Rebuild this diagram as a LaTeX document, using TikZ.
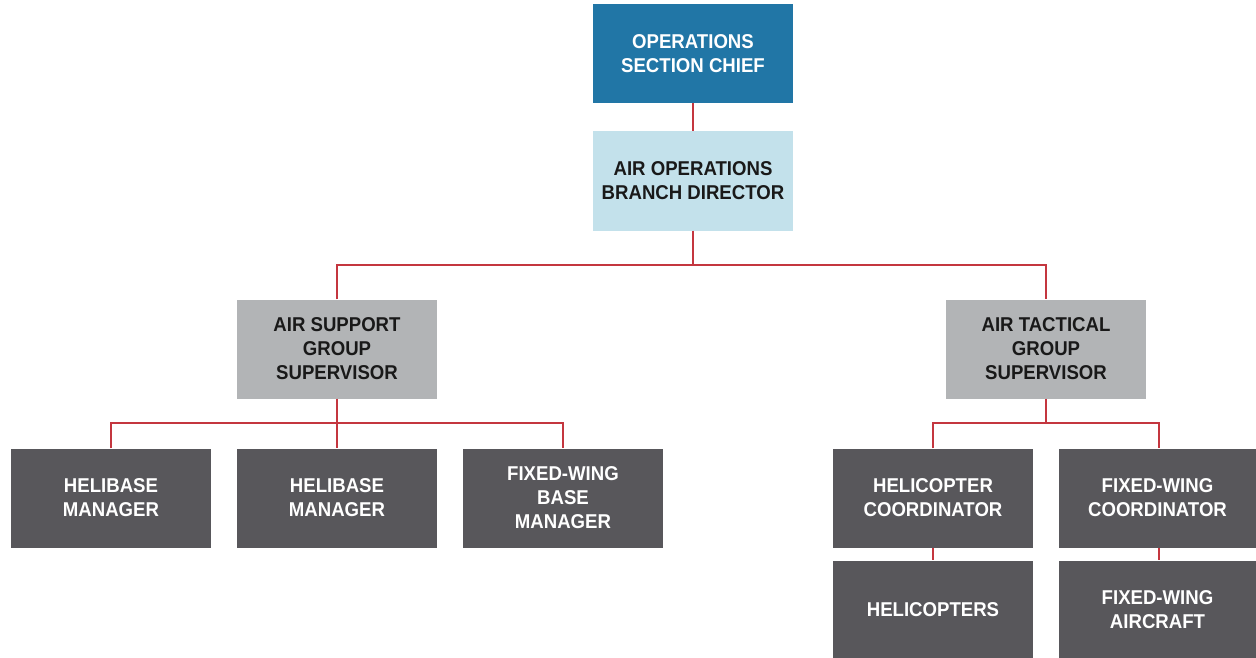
\documentclass[tikz,border=0pt]{standalone}
\usepackage{fontspec}
\setmainfont{Liberation Sans}[FakeStretch=0.93]
\definecolor{chiefblue}{HTML}{2176A6}
\definecolor{lightblue}{HTML}{C3E1EB}
\definecolor{midgray}{HTML}{B2B4B6}
\definecolor{darkgray}{HTML}{58575B}
\definecolor{linered}{HTML}{C4363F}
\tikzset{
  box/.style={rectangle, minimum width=200pt, minimum height=99pt, inner sep=0pt, align=center,
    font=\fontsize{20}{24}\selectfont\bfseries},
  chief/.style={box, fill=chiefblue, text=white},
  branch/.style={box, fill=lightblue, text=black!90},
  group/.style={box, fill=midgray, text=black!90},
  unit/.style={box, fill=darkgray, text=white},
  link/.style={draw=linered, line width=2.2pt}
}
\begin{document}
\begin{tikzpicture}[x=1pt,y=-1pt]
\clip (0,0) rectangle (1256,658);
\fill[white] (0,0) rectangle (1256,658);
\node[chief]  (osc) at (693,53.5) {OPERATIONS\\SECTION CHIEF};
\node[branch] (aob) at (693,181) {AIR OPERATIONS\\BRANCH DIRECTOR};
\node[group]  (asg) at (337,349) {AIR SUPPORT\\GROUP\\SUPERVISOR};
\node[group]  (atg) at (1046,349) {AIR TACTICAL\\GROUP\\SUPERVISOR};
\node[unit]   (hb1) at (111,498) {HELIBASE\\MANAGER};
\node[unit]   (hb2) at (337,498) {HELIBASE\\MANAGER};
\node[unit]   (fwb) at (563,498) {FIXED-WING\\BASE\\MANAGER};
\node[unit]   (hc)  at (933,498) {HELICOPTER\\COORDINATOR};
\node[unit, minimum width=197pt] (fwc) at (1157.5,498) {FIXED-WING\\COORDINATOR};
\node[unit, minimum width=200pt] (hel) at (933,610) {HELICOPTERS};
\node[unit, minimum width=197pt] (fwa) at (1157.5,610) {FIXED-WING\\AIRCRAFT};
\coordinate (j1) at (693,265);
\coordinate (j2) at (337,423);
\coordinate (j3) at (1046,423);
\draw[link] (osc.south) -- (aob.north);
\draw[link] (aob.south) -- (j1);
\draw[link] (asg.north) |- (j1) -| (atg.north);
\draw[link] (asg.south) -- (hb2.north);
\draw[link] (hb1.north) |- (j2) -| (fwb.north);
\draw[link] (atg.south) -- (j3);
\draw[link] (hc.north) |- (j3) -| ([xshift=1.5pt]fwc.north);
\draw[link] (hc.south) -- (hel.north);
\draw[link] ([xshift=1.5pt]fwc.south) -- ([xshift=1.5pt]fwa.north);
\end{tikzpicture}
\end{document}
